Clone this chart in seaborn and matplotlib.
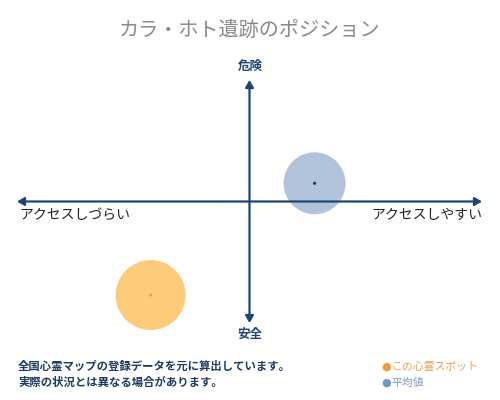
import matplotlib
matplotlib.use("Agg")
import matplotlib.pyplot as plt
import seaborn as sns
import pandas as pd

# position data (x: access ease, y: danger), axis range is -1..1
spot_names = ["この心霊スポット", "平均値"]
spot_x = [-0.425, 0.28]
spot_y = [-0.77, 0.15]
spot_size = [2540, 1990]
fill_colors = ["#fdc66c", "#a9bdd6"]
dot_colors = ["#f0a030", "#1d3557"]

title = "カラ・ホト遺跡のポジション"
label_top = "危険"
label_bottom = "安全"
label_left = "アクセスしづらい"
label_right = "アクセスしやすい"
notes = ["全国心霊マップの登録データを元に算出しています。", "実際の状況とは異なる場合があります。"]
legend_colors = ["#ee9a3c", "#6f97c0"]
legend_text_colors = ["#e8a050", "#7d9cc0"]

sns.set_style("white")
plt.rcParams['font.family'] = ['Noto Sans CJK JP', 'DejaVu Sans']

navy = "#1f4571"
df = pd.DataFrame({"x": spot_x, "y": spot_y, "name": spot_names, "s": spot_size})

fig = plt.figure(figsize=(5, 4), dpi=100)
ax = fig.add_axes([0.034, 0.1925, 0.93, 0.6075])
ax.set_xlim(-1, 1)
ax.set_ylim(-1, 1)
ax.axis("off")

sns.scatterplot(data=df, x="x", y="y", hue="name", size="name",
                sizes=dict(zip(spot_names, spot_size)),
                palette=dict(zip(spot_names, fill_colors)),
                alpha=0.9, linewidth=0, legend=False, ax=ax, zorder=1, clip_on=False)
sns.scatterplot(data=df, x="x", y="y", hue="name",
                palette=dict(zip(spot_names, dot_colors)),
                s=5, linewidth=0, legend=False, ax=ax, zorder=3, clip_on=False)

arrow = dict(arrowstyle="<|-|>,head_length=0.6,head_width=0.35", color=navy,
             lw=1.6, shrinkA=0, shrinkB=0, mutation_scale=7)
ax.annotate("", xy=(0, 0.5), xytext=(1, 0.5), xycoords="axes fraction",
            textcoords="axes fraction", arrowprops=arrow, zorder=2)
ax.annotate("", xy=(0.5, 0), xytext=(0.5, 1), xycoords="axes fraction",
            textcoords="axes fraction", arrowprops=arrow, zorder=2)

fig.text(0.5, 0.925, title, ha="center", va="center", fontsize=14.5, color="#8a8a8a")
fig.text(0.5, 0.833, label_top, ha="center", va="center", fontsize=9, color=navy, fontweight="bold")
fig.text(0.5, 0.163, label_bottom, ha="center", va="center", fontsize=9, color=navy, fontweight="bold")
fig.text(0.038, 0.462, label_left, ha="left", va="center", fontsize=10, color="#222222")
fig.text(0.964, 0.462, label_right, ha="right", va="center", fontsize=10, color="#222222")

for i, note in enumerate(notes):
    fig.text(0.036, 0.083 - i * 0.04, note, ha="left", va="center", fontsize=8.2,
             color="#1f3a5c", fontweight="bold")

for i, name in enumerate(spot_names):
    yy = 0.083 - i * 0.04
    fig.text(0.762, yy, "●", ha="left", va="center", fontsize=8, color=legend_colors[i],
             family=['DejaVu Sans'])
    fig.text(0.782, yy, name, ha="left", va="center", fontsize=7.8, color=legend_text_colors[i])

fig.savefig("out.png", dpi=100)
